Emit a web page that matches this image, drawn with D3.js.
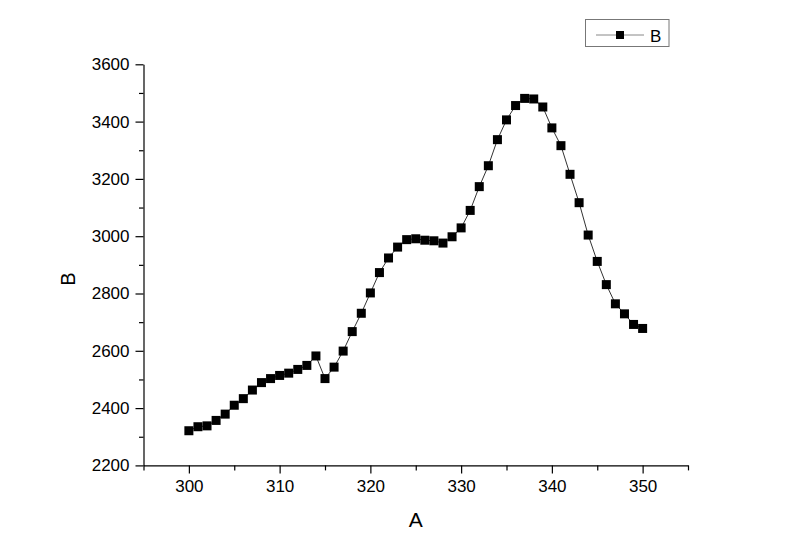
<!DOCTYPE html>
<html>
<head>
<meta charset="utf-8">
<script src="https://cdn.jsdelivr.net/npm/d3@7"></script>
<style>
  html, body { margin: 0; padding: 0; background: #fff; }
  svg { display: block; font-family: "Liberation Sans", Arial, sans-serif; }
</style>
</head>
<body>
<div id="chart"></div>
<script>
// line + square markers, A vs B

const seriesName = "B";
const xValues = [
  300, 301, 302, 303, 304, 305, 306, 307, 308, 309,
  310, 311, 312, 313, 314, 315, 316, 317, 318, 319,
  320, 321, 322, 323, 324, 325, 326, 327, 328, 329,
  330, 331, 332, 333, 334, 335, 336, 337, 338, 339,
  340, 341, 342, 343, 344, 345, 346, 347, 348, 349, 350
];
const yValues = [
  2321, 2335, 2338, 2357, 2379, 2410, 2433, 2463, 2489, 2503,
  2514, 2522, 2535, 2549, 2582, 2503, 2543, 2599, 2667, 2731,
  2802, 2873, 2924, 2962, 2988, 2991, 2986, 2984, 2976, 2998,
  3029, 3090, 3173, 3246, 3337, 3406, 3456, 3481, 3479, 3451,
  3378, 3316, 3216, 3117, 3004, 2912, 2831, 2764, 2729, 2692, 2678
];
const xMajorTicks = [300, 310, 320, 330, 340, 350];
const xMinorTicks = [295, 305, 315, 325, 335, 345, 355];
const yMajorTicks = [2200, 2400, 2600, 2800, 3000, 3200, 3400, 3600];
const yMinorTicks = [2300, 2500, 2700, 2900, 3100, 3300, 3500];

const width = 800;
const height = 558;
const plotLeft = 143.5, plotRight = 688, plotTop = 64.3, plotBottom = 465.4;
const fontFamily = "'Liberation Sans', Arial, sans-serif";

const x = d3.scaleLinear().domain([295, 355]).range([plotLeft, plotRight]);
const y = d3.scaleLinear().domain([2200, 3600]).range([plotBottom, plotTop]);

const svg = d3.select("#chart")
  .append("svg")
  .attr("width", width)
  .attr("height", height)
  .attr("viewBox", [0, 0, width, height]);

// x axis
const xAxis = svg.append("g")
  .attr("transform", "translate(0," + plotBottom + ")");

xAxis.append("g")
  .call(d3.axisBottom(x).tickValues(xMinorTicks).tickSize(5).tickFormat(""))
  .call(function(g) { g.select(".domain").remove(); });

xAxis.append("g")
  .call(d3.axisBottom(x).tickValues(xMajorTicks).tickSize(8).tickSizeOuter(0).tickPadding(7).tickFormat(d3.format("d")))
  .call(function(g) {
    g.attr("font-family", fontFamily);
    g.select(".domain").attr("stroke-width", 1.2);
    g.selectAll("text").attr("font-size", 17).attr("fill", "#000");
  });

// y axis
const yAxis = svg.append("g")
  .attr("transform", "translate(" + plotLeft + ",0)");

yAxis.append("g")
  .call(d3.axisLeft(y).tickValues(yMinorTicks).tickSize(4.5).tickFormat(""))
  .call(function(g) { g.select(".domain").remove(); });

yAxis.append("g")
  .call(d3.axisLeft(y).tickValues(yMajorTicks).tickSize(8).tickSizeOuter(0).tickPadding(6).tickFormat(d3.format("d")))
  .call(function(g) {
    g.attr("font-family", fontFamily);
    g.select(".domain").attr("stroke-width", 1.2);
    g.selectAll("text").attr("font-size", 17).attr("fill", "#000");
  });

svg.selectAll(".tick line").attr("stroke-width", 1.2);

// axis titles
svg.append("text")
  .attr("x", (plotLeft + plotRight) / 2)
  .attr("y", 527)
  .attr("text-anchor", "middle")
  .attr("font-size", 21)
  .text("A");

svg.append("text")
  .attr("transform", "translate(75,279) rotate(-90)")
  .attr("text-anchor", "middle")
  .attr("font-size", 20)
  .text("B");

// series
const points = xValues.map(function(d, i) { return [d, yValues[i]]; });

svg.append("path")
  .datum(points)
  .attr("fill", "none")
  .attr("stroke", "#333")
  .attr("stroke-width", 1)
  .attr("d", d3.line()
    .x(function(d) { return x(d[0]); })
    .y(function(d) { return y(d[1]); }));

const size = 9;
svg.append("g")
  .selectAll("rect")
  .data(points)
  .join("rect")
  .attr("x", function(d) { return x(d[0]) - size / 2; })
  .attr("y", function(d) { return y(d[1]) - size / 2; })
  .attr("width", size)
  .attr("height", size)
  .attr("fill", "#000");

// legend
const legend = svg.append("g");

legend.append("rect")
  .attr("x", 585.5)
  .attr("y", 19.5)
  .attr("width", 83.5)
  .attr("height", 27)
  .attr("fill", "#fff")
  .attr("stroke", "#777")
  .attr("stroke-width", 1);

legend.append("line")
  .attr("x1", 596)
  .attr("x2", 644)
  .attr("y1", 35)
  .attr("y2", 35)
  .attr("stroke", "#888")
  .attr("stroke-width", 1);

legend.append("rect")
  .attr("x", 616)
  .attr("y", 31)
  .attr("width", 8)
  .attr("height", 8)
  .attr("fill", "#000");

legend.append("text")
  .attr("x", 650)
  .attr("y", 41.8)
  .attr("font-size", 17)
  .text(seriesName);
</script>
</body>
</html>
